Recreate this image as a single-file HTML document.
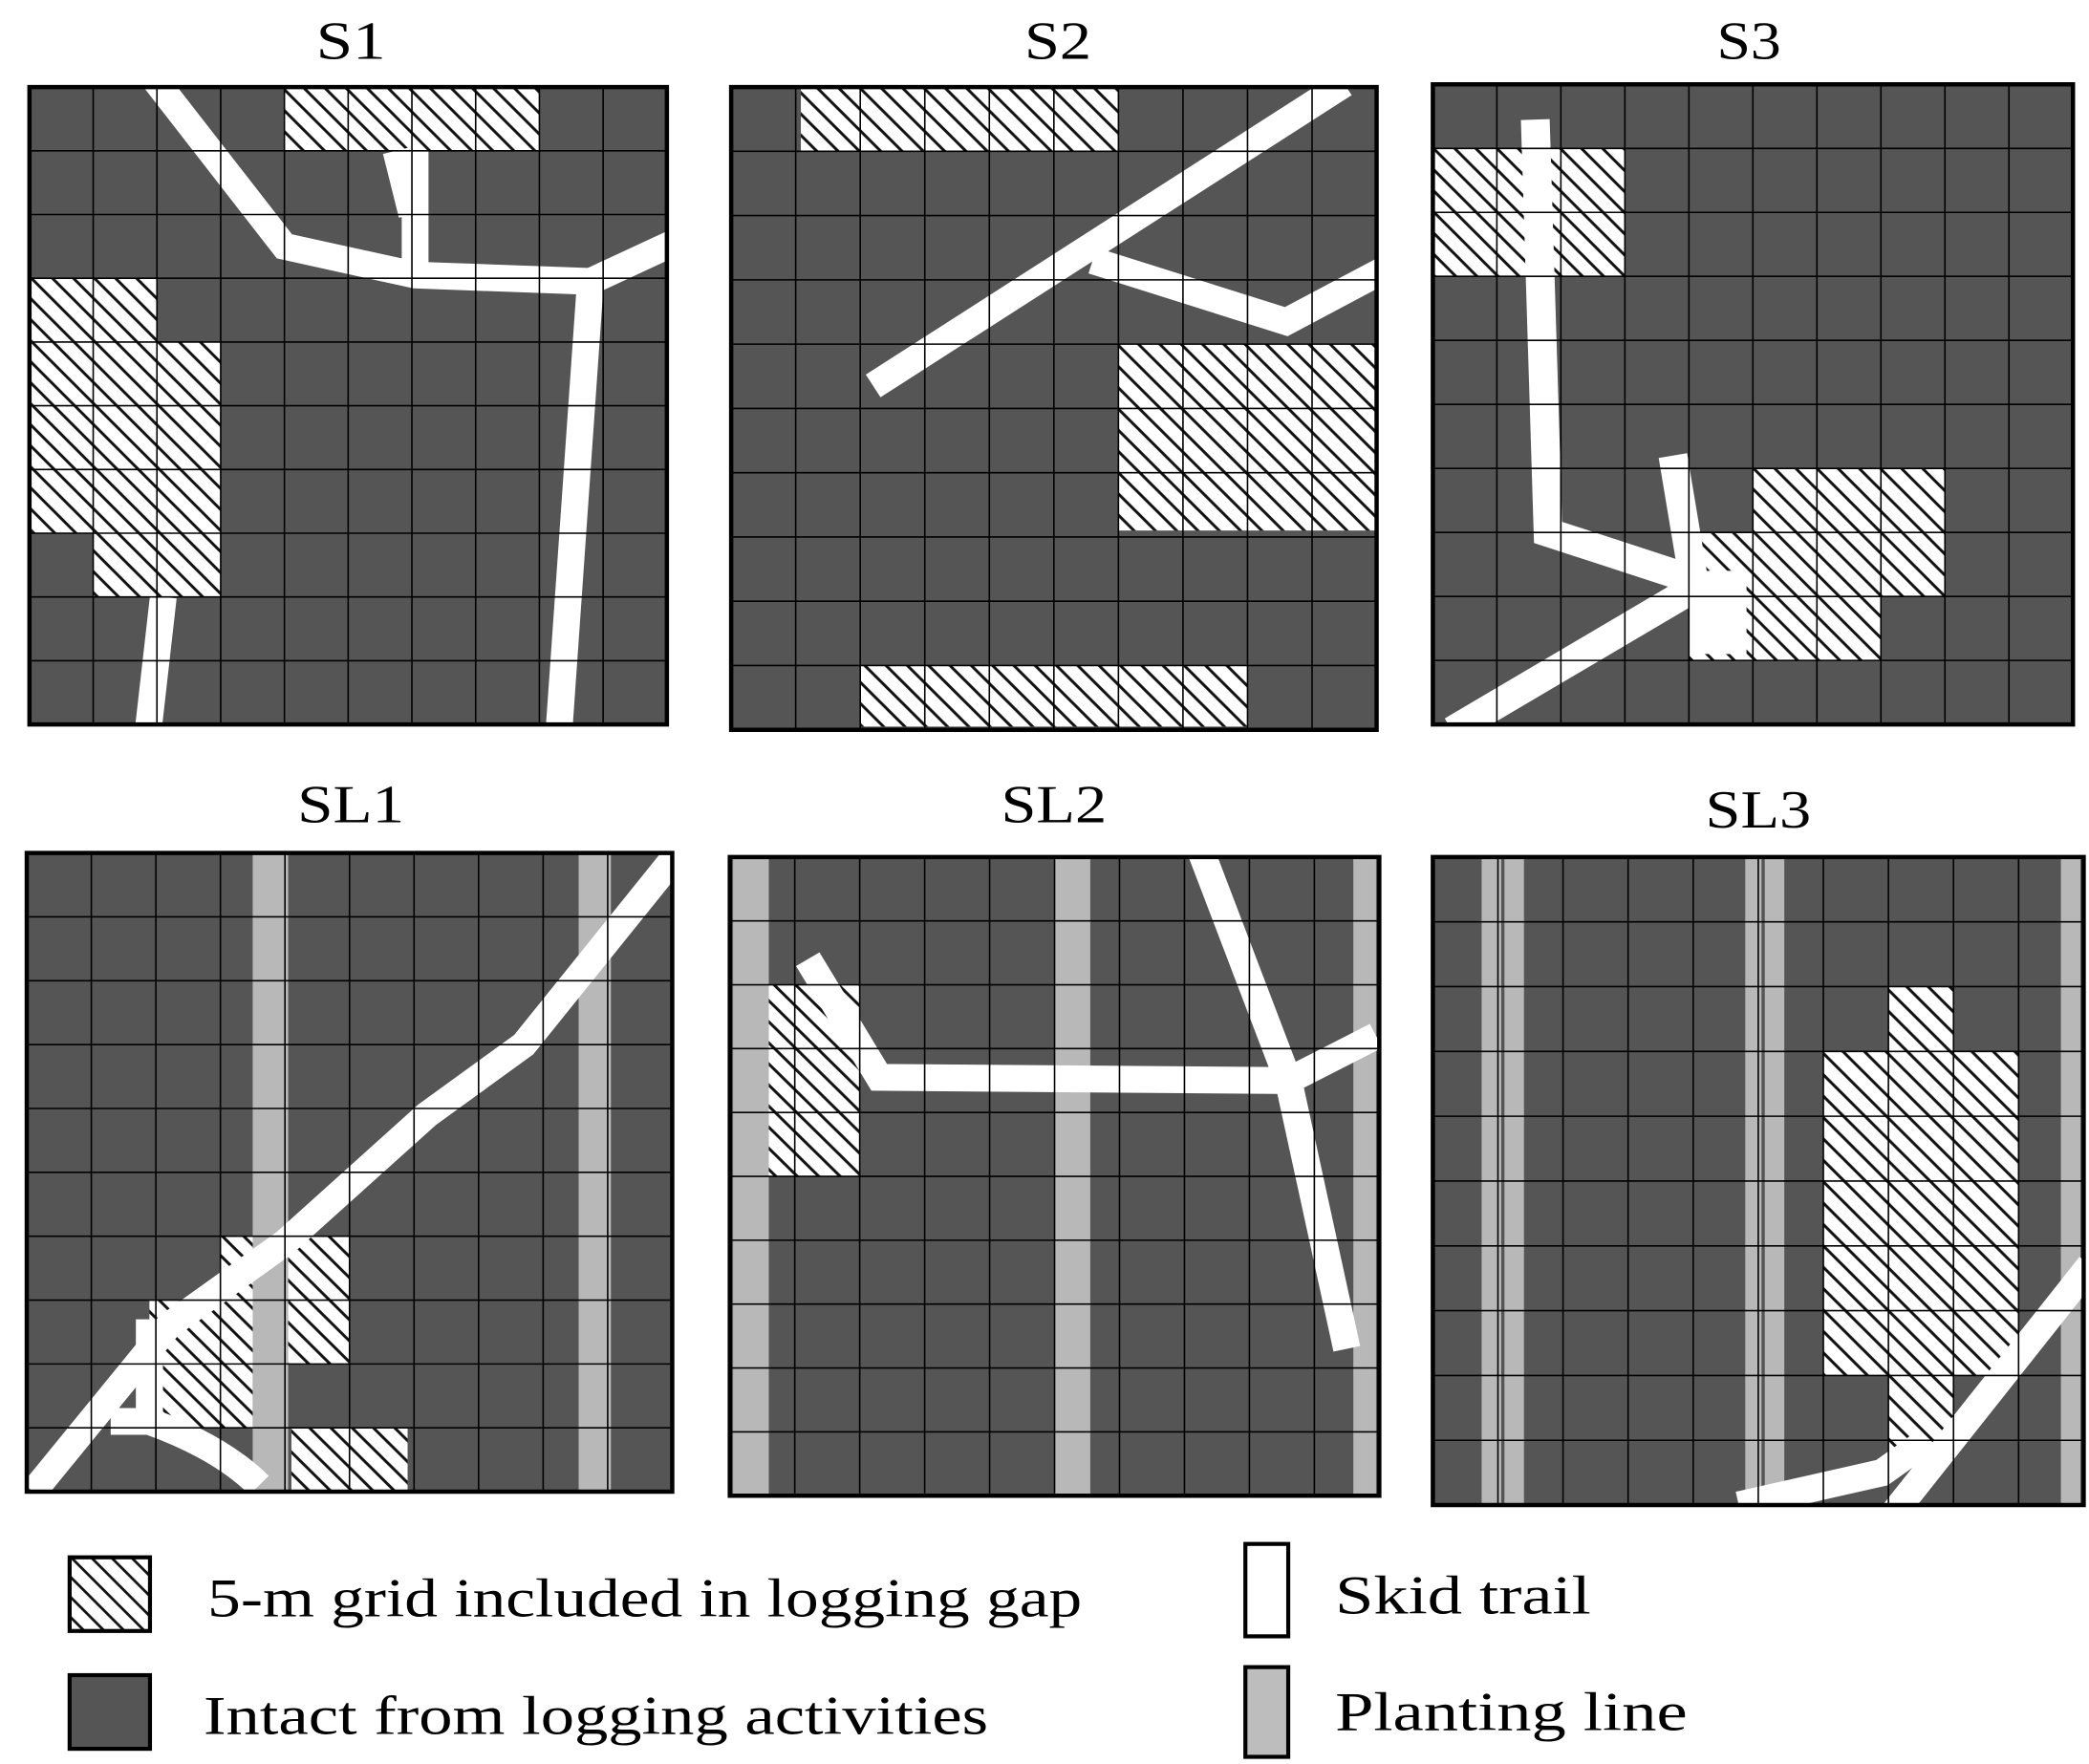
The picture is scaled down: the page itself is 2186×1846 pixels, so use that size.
<!DOCTYPE html>
<html><head><meta charset="utf-8"><style>
html,body{margin:0;padding:0;background:#fff;}
svg{display:block;}
text{font-family:"Liberation Serif",serif;fill:#000;}
</style></head><body>
<svg width="2186" height="1846" viewBox="0 0 2186 1846" xmlns="http://www.w3.org/2000/svg">
<defs>
<pattern id="h" patternUnits="userSpaceOnUse" width="0.33" height="0.33">
<rect width="0.33" height="0.33" fill="#fff"/>
<path d="M-0.05,-0.05 L0.38,0.38 M-0.05,0.28 L0.05,0.38 M0.28,-0.05 L0.38,0.05" stroke="#111" stroke-width="0.045"/>
</pattern>
<pattern id="hl" patternUnits="userSpaceOnUse" width="15" height="15">
<rect width="15" height="15" fill="#fff"/>
<path d="M-2,-2 L17,17 M-2,13 L2,17 M13,-2 L17,2" stroke="#111" stroke-width="2"/>
</pattern>
<g id="grid" stroke="#000" fill="none">
<path vector-effect="non-scaling-stroke" stroke-width="1.6" d="M1,0V10M2,0V10M3,0V10M4,0V10M5,0V10M6,0V10M7,0V10M8,0V10M9,0V10M0,1H10M0,2H10M0,3H10M0,4H10M0,5H10M0,6H10M0,7H10M0,8H10M0,9H10"/>
<rect x="0" y="0" width="10" height="10" stroke-width="4.5" vector-effect="non-scaling-stroke"/>
</g>
</defs>
<g transform="scale(1.4013)">
<g font-size="40" text-anchor="middle" lengthAdjust="spacingAndGlyphs">
<text x="262" y="44" textLength="52" lengthAdjust="spacingAndGlyphs">S1</text>
<text x="790" y="44" textLength="50" lengthAdjust="spacingAndGlyphs">S2</text>
<text x="1306" y="44" textLength="48" lengthAdjust="spacingAndGlyphs">S3</text>
<text x="262" y="614" textLength="80" lengthAdjust="spacingAndGlyphs">SL1</text>
<text x="787" y="614" textLength="79" lengthAdjust="spacingAndGlyphs">SL2</text>
<text x="1313" y="618" textLength="79" lengthAdjust="spacingAndGlyphs">SL3</text>
</g>

<g transform="translate(22,65) scale(47.6,47.6)">
<rect width="10" height="10" fill="#555"/>
<g fill="url(#h)">
<rect x="4" y="0" width="4" height="1"/>
<rect x="0" y="3" width="2" height="1"/>
<rect x="0" y="4" width="3" height="3"/>
<rect x="1" y="7" width="2" height="1"/>
</g>
<g fill="none" stroke="#fff" stroke-width="0.42">
<polyline points="1.9,-0.2 4.0,2.5 6.05,2.95 8.8,3.05 10.2,2.4"/>
<polyline points="6.05,2.95 6.05,1.0"/>
<polyline points="6.0,2.0 5.75,1.0"/>
<polyline points="8.8,3.05 8.3,10.2"/>
<polyline points="2.1,8.0 1.85,10.2"/>
</g>
<use href="#grid"/>
</g>

<g transform="translate(546,65) scale(48.2,48)">
<rect width="10" height="10" fill="#555"/>
<g fill="url(#h)">
<rect x="1.08" y="0" width="4.92" height="1"/>
<rect x="6" y="4" width="4" height="2.9"/>
<rect x="2" y="9" width="6" height="0.95"/>
</g>
<g fill="none" stroke="#fff" stroke-width="0.42">
<polyline points="2.2,4.65 9.5,-0.05"/>
<polyline points="5.6,2.7 8.6,3.65 10.1,2.85"/>
</g>
<use href="#grid"/>
</g>

<g transform="translate(1070,63) scale(47.8,47.8)">
<rect width="10" height="10" fill="#555"/>
<g fill="url(#h)">
<rect x="0" y="1" width="3" height="2"/>
<rect x="5" y="6" width="3" height="2"/>
<rect x="4" y="7" width="3" height="2"/>
</g>
<g fill="none" stroke="#fff" stroke-width="0.45">
<polyline points="1.6,0.55 1.8,7.0 4.1,7.75"/>
<polyline points="4.1,7.9 3.75,5.8"/>
<polyline points="4.2,7.8 0.3,10.1"/>
</g>
<rect x="4" y="7.6" width="0.9" height="1.3" fill="#fff"/>
<use href="#grid"/>
</g>

<g transform="translate(20,637) scale(48.2,47.7)">
<rect width="10" height="10" fill="#555"/>
<g fill="url(#h)">
<rect x="3" y="6" width="2" height="2"/>
<rect x="1.9" y="7" width="1.6" height="2"/>
<rect x="4.1" y="9" width="1.8" height="1"/>
</g>
<rect x="3.5" y="0" width="0.55" height="10" fill="#b8b8b8"/>
<rect x="8.55" y="0" width="0.5" height="10" fill="#b8b8b8"/>
<g fill="none" stroke="#fff" stroke-width="0.42">
<polyline points="10.05,0.05 7.7,3.0 6.2,4.1 4.0,6.1 2.2,7.4 0.1,10.0"/>
<path d="M1.9,8.9 Q3,9.3 3.6,9.9"/>
<polyline points="1.9,7.3 1.9,8.9 1.3,8.9"/>
</g>
<use href="#grid"/>
</g>

<g transform="translate(545,640) scale(48.5,47.7)">
<rect width="10" height="10" fill="#555"/>
<rect x="0.6" y="2" width="1.4" height="3" fill="url(#h)"/>
<rect x="0.05" y="0" width="0.55" height="10" fill="#b8b8b8"/>
<rect x="5.0" y="0" width="0.55" height="10" fill="#b8b8b8"/>
<rect x="9.6" y="0" width="0.35" height="10" fill="#b8b8b8"/>
<g fill="none" stroke="#fff" stroke-width="0.42">
<polyline points="1.2,1.6 2.3,3.45 8.6,3.5"/>
<polyline points="7.25,-0.1 8.6,3.5 9.5,7.7"/>
<polyline points="8.6,3.5 9.95,2.8"/>
</g>
<use href="#grid"/>
</g>

<g transform="translate(1070,640) scale(48.6,48.4)">
<rect width="10" height="10" fill="#555"/>
<g fill="url(#h)">
<rect x="7" y="2" width="1" height="1"/>
<rect x="6" y="3" width="3" height="5"/>
<rect x="7" y="8" width="1" height="1.2"/>
</g>
<rect x="0.75" y="0" width="0.3" height="10" fill="#b8b8b8"/>
<rect x="1.1" y="0" width="0.3" height="10" fill="#b8b8b8"/>
<rect x="4.8" y="0" width="0.25" height="10" fill="#b8b8b8"/>
<rect x="5.1" y="0" width="0.3" height="10" fill="#b8b8b8"/>
<rect x="9.65" y="0" width="0.3" height="10" fill="#b8b8b8"/>
<g fill="none" stroke="#fff" stroke-width="0.42">
<polyline points="10.1,6.3 7.1,10.1"/>
<polyline points="4.7,10.0 6.9,9.5 7.6,9.0"/>
</g>
<use href="#grid"/>
</g>

<rect x="52" y="1163" width="60" height="55" fill="url(#hl)" stroke="#000" stroke-width="3"/>
<rect x="52" y="1251" width="60" height="55" fill="#555" stroke="#000" stroke-width="3"/>
<rect x="930" y="1153" width="32" height="69" fill="#fff" stroke="#000" stroke-width="3"/>
<rect x="930" y="1245" width="32" height="67" fill="#bdbdbd" stroke="#000" stroke-width="3"/>
<g font-size="41">
<text x="155" y="1207" textLength="653" lengthAdjust="spacingAndGlyphs">5-m grid included in logging gap</text>
<text x="152" y="1295" textLength="586" lengthAdjust="spacingAndGlyphs">Intact from logging activities</text>
<text x="997" y="1205" textLength="191" lengthAdjust="spacingAndGlyphs">Skid trail</text>
<text x="997" y="1292" textLength="263" lengthAdjust="spacingAndGlyphs">Planting line</text>
</g>
</g>
</svg>
</body></html>
